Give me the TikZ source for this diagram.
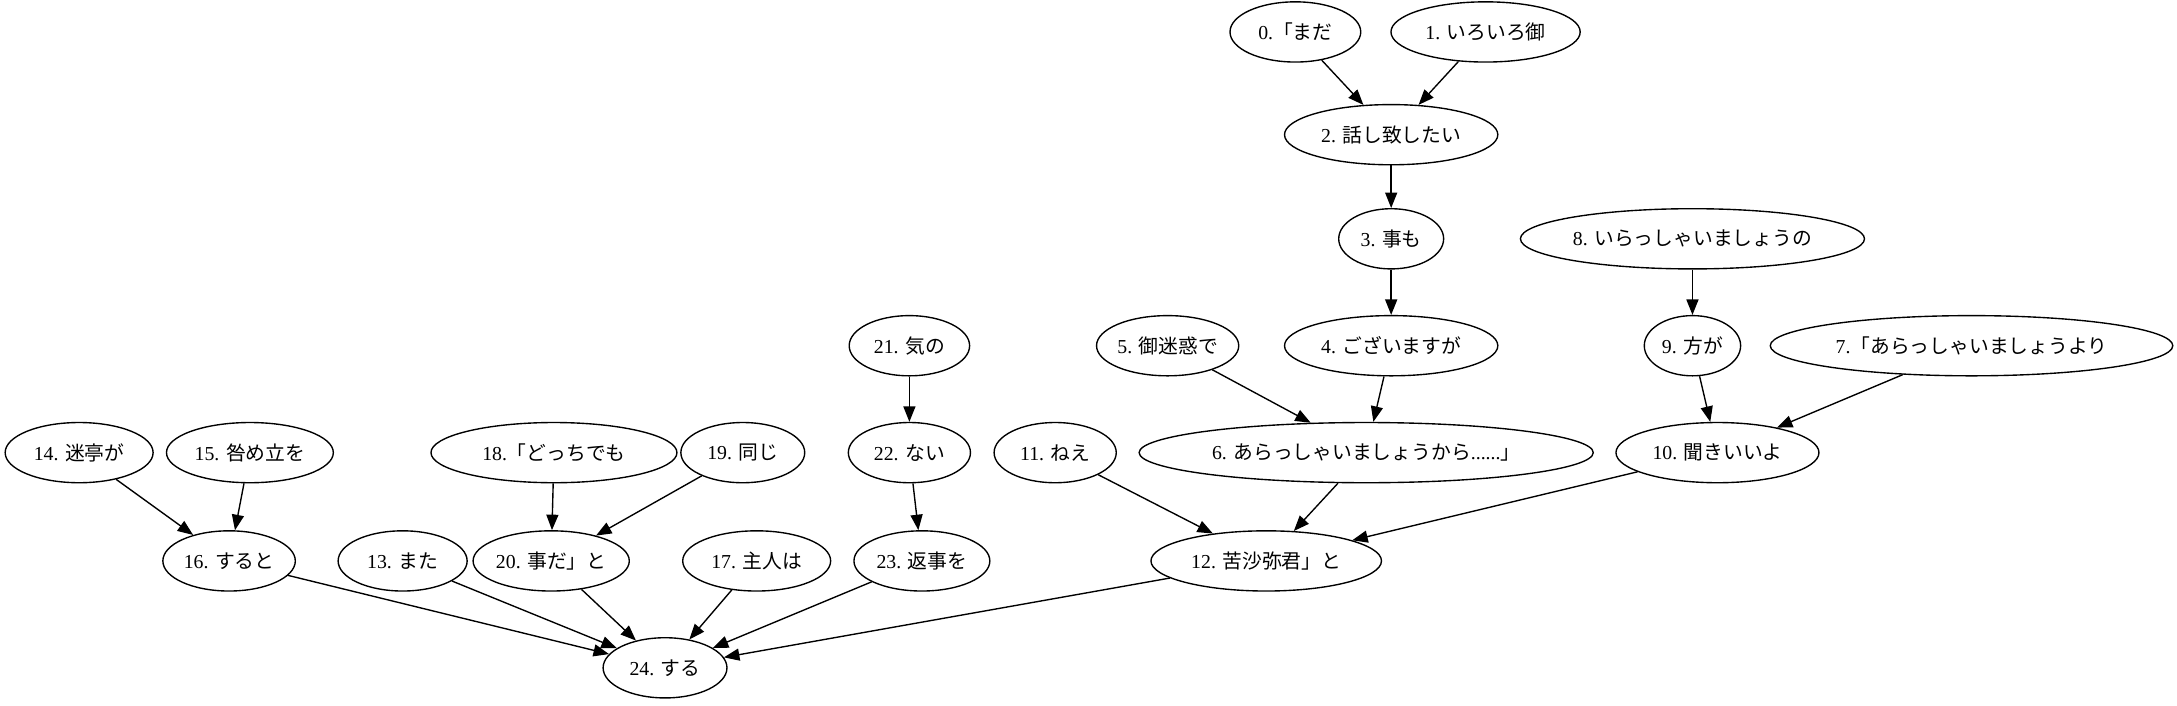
\documentclass[tikz,border=0pt]{standalone}
\usepackage{fontspec}
\setmainfont{Liberation Serif}
\newfontfamily\jpfont{Noto Sans CJK JP}
\usetikzlibrary{arrows.meta}
\usetikzlibrary{shapes,shapes.geometric}
\tikzset{>={Triangle[length=9pt,width=7pt]}}
\tikzset{word/.style={ellipse, draw, line width=0.8pt, inner sep=0pt, minimum height=35pt, minimum width=#1, font=\fontsize{11.5}{14}\selectfont}}
\tikzset{dep/.style={->, line width=0.8pt}}

\begin{document}
\begin{tikzpicture}[x=0.02836cm, y=-0.02836cm]
      \useasboundingbox (0,0) rectangle (1568,508);
      % top chain
      \node[word=76pt] (n0) at (933,23) {0.{\jpfont 「まだ}};
      \node[word=110pt] (n1) at (1070,23) {1. {\jpfont いろいろ御}};
      \node[word=124pt] (n2) at (1002,97) {2. {\jpfont 話し致したい}};
      \node[word=61pt] (n3) at (1002,172) {3. {\jpfont 事も}};
      \node[word=200pt] (n8) at (1219,172) {8. {\jpfont いらっしゃいましょうの}};
      \node[word=70pt] (n21) at (655,249) {21. {\jpfont 気の}};
      \node[word=81pt] (n5) at (841,249) {5. {\jpfont 御迷惑で}};
      \node[word=124pt] (n4) at (1002,249) {4. {\jpfont ございますが}};
      \node[word=56pt] (n9) at (1219,249) {9. {\jpfont 方が}};
      \node[word=234pt] (n7) at (1420,249) {7.{\jpfont 「あらっしゃいましょうより}};
      % middle row
      \node[word=86pt] (n14) at (57,326) {14. {\jpfont 迷亭が}};
      \node[word=97pt] (n15) at (180,326) {15. {\jpfont 咎め立を}};
      \node[word=143pt] (n18) at (399,326) {18.{\jpfont 「どっちでも}};
      \node[word=72pt] (n19) at (535,326) {19. {\jpfont 同じ}};
      \node[word=71pt] (n22) at (655,326) {22. {\jpfont ない}};
      \node[word=71pt] (n11) at (760,326) {11. {\jpfont ねえ}};
      \node[word=264pt] (n6) at (984,326) {6. {\jpfont あらっしゃいましょうから}......{\jpfont 」}};
      \node[word=118pt] (n10) at (1237,326) {10. {\jpfont 聞きいいよ}};
      % lower rows
      \node[word=77pt] (n16) at (165,404) {16. {\jpfont すると}};
      \node[word=75pt] (n13) at (290,404) {13. {\jpfont また}};
      \node[word=82pt] (n20) at (397,404) {20. {\jpfont 事だ」と}};
      \node[word=86pt] (n17) at (545,404) {17. {\jpfont 主人は}};
      \node[word=79pt] (n23) at (664,404) {23. {\jpfont 返事を}};
      \node[word=134pt] (n12) at (912,404) {12. {\jpfont 苦沙弥君」と}};
      \node[word=72pt] (n24) at (479,481) {24. {\jpfont する}};
      % edges
      \draw[dep] (n0) -- (n2);
      \draw[dep] (n1) -- (n2);
      \draw[dep] (n2) -- (n3);
      \draw[dep] (n3) -- (n4);
      \draw[dep] (n8) -- (n9);
      \draw[dep] (n4) -- (n6);
      \draw[dep] (n5) -- (n6);
      \draw[dep] (n9) -- (n10);
      \draw[dep] (n7) -- (n10);
      \draw[dep] (n21) -- (n22);
      \draw[dep] (n22) -- (n23);
      \draw[dep] (n14) -- (n16);
      \draw[dep] (n15) -- (n16);
      \draw[dep] (n18) -- (n20);
      \draw[dep] (n19) -- (n20);
      \draw[dep] (n11) -- (n12);
      \draw[dep] (n6) -- (n12);
      \draw[dep] (n10) -- (n12);
      \draw[dep] (n16) -- (n24);
      \draw[dep] (n13) -- (n24);
      \draw[dep] (n20) -- (n24);
      \draw[dep] (n17) -- (n24);
      \draw[dep] (n23) -- (n24);
      \draw[dep] (n12) -- (n24);
\end{tikzpicture}
\end{document}
